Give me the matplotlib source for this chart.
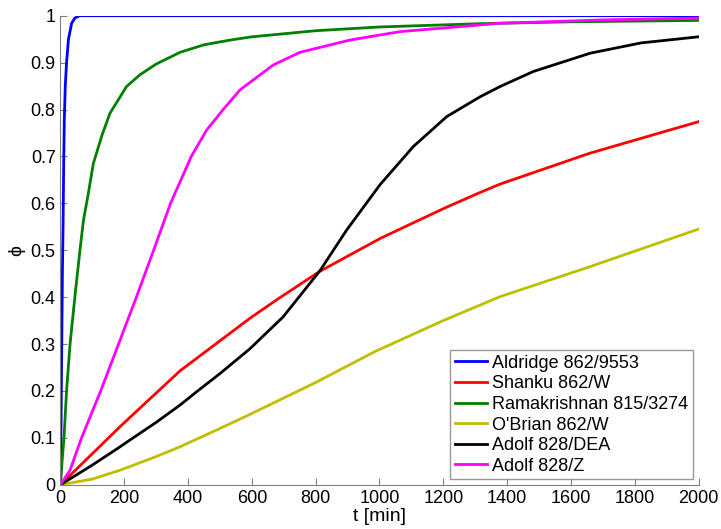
import matplotlib.pyplot as plt

# time [min] and conversion phi
t_aldridge = [0, 2, 4, 6, 8, 10, 12, 15, 19, 25, 35, 45, 60, 2000]
phi_aldridge = [0, 0.15, 0.3, 0.45, 0.55, 0.68, 0.78, 0.85, 0.9, 0.95, 0.984, 0.995, 1.0, 1.0]

t_shanku = [0, 187, 307, 375, 594, 688, 813, 1002, 1117, 1211, 1315, 1378, 1660, 2000]
phi_shanku = [0, 0.124, 0.2, 0.243, 0.355, 0.399, 0.455, 0.525, 0.562, 0.592, 0.623, 0.641, 0.707, 0.774]

t_rama = [0, 5, 11, 19, 30, 45, 61, 72, 87, 103, 130, 155, 207, 249, 300, 375,
          450, 531, 600, 800, 1000, 1315, 1600, 2000]
phi_rama = [0, 0.05, 0.1, 0.2, 0.3, 0.4, 0.5, 0.564, 0.62, 0.685, 0.745, 0.792, 0.849, 0.874, 0.897, 0.922,
            0.938, 0.948, 0.955, 0.968, 0.976, 0.983, 0.987, 0.99]

t_obrian = [0, 100, 187, 300, 375, 500, 594, 800, 986, 1200, 1378, 1660, 2000]
phi_obrian = [0, 0.012, 0.031, 0.06, 0.081, 0.12, 0.15, 0.218, 0.284, 0.35, 0.401, 0.465, 0.545]

t_dea = [0, 100, 187, 217, 300, 375, 430, 500, 594, 698, 813, 897, 1002, 1106, 1211,
         1315, 1378, 1482, 1660, 1820, 2000]
phi_dea = [0, 0.042, 0.081, 0.095, 0.133, 0.17, 0.2, 0.237, 0.29, 0.358, 0.456, 0.543, 0.64, 0.721, 0.785,
           0.827, 0.849, 0.881, 0.92, 0.942, 0.955]

t_z = [0, 30, 66, 126, 182, 238, 292, 345, 410, 458, 510, 563, 667, 751, 907, 1064, 1378, 1700, 2000]
phi_z = [0, 0.031, 0.1, 0.2, 0.3, 0.4, 0.5, 0.6, 0.7, 0.756, 0.8, 0.842, 0.895, 0.922, 0.948, 0.966,
         0.984, 0.991, 0.995]

plt.rcParams['font.family'] = ['Liberation Sans', 'DejaVu Sans']

fig = plt.figure(figsize=(7.21, 5.29), dpi=100)
ax = fig.add_axes([0.0839, 0.0837, 0.8849, 0.8866])

lw = 2.0
ax.plot(t_aldridge, phi_aldridge, color=(0, 0, 1), lw=lw, label='Aldridge 862/9553')
ax.plot(t_shanku, phi_shanku, color=(1, 0, 0), lw=lw, label='Shanku 862/W')
ax.plot(t_rama, phi_rama, color=(0, 0.5, 0), lw=lw, label='Ramakrishnan 815/3274')
ax.plot(t_obrian, phi_obrian, color=(0.75, 0.75, 0), lw=lw, label="O'Brian 862/W")
ax.plot(t_dea, phi_dea, color='black', lw=lw, label='Adolf 828/DEA')
ax.plot(t_z, phi_z, color=(1, 0, 1), lw=lw, label='Adolf 828/Z')

ax.set_xlim(0, 2000)
ax.set_ylim(0, 1)
ax.set_xticks(range(0, 2001, 200))
ax.set_yticks([i / 10 for i in range(11)])
ax.set_yticklabels(['0', '0.1', '0.2', '0.3', '0.4', '0.5', '0.6', '0.7', '0.8', '0.9', '1'])

for s in ['top', 'right']:
    ax.spines[s].set_visible(False)
for s in ['left', 'bottom']:
    ax.spines[s].set_color('#808080')
ax.tick_params(direction='in', length=5, color='#808080', labelsize=13, labelcolor='black')

ax.set_xlabel('t [min]', fontsize=14, labelpad=1)
ax.set_ylabel('ϕ', fontsize=14, labelpad=4)

leg = ax.legend(loc='lower right', fontsize=13, frameon=True, fancybox=False,
                edgecolor='#808080', handlelength=1.8, handletextpad=0.3,
                labelspacing=0.2, borderpad=0.25, borderaxespad=0.3)
leg.get_frame().set_linewidth(1.0)

fig.savefig('out.png', dpi=100)
